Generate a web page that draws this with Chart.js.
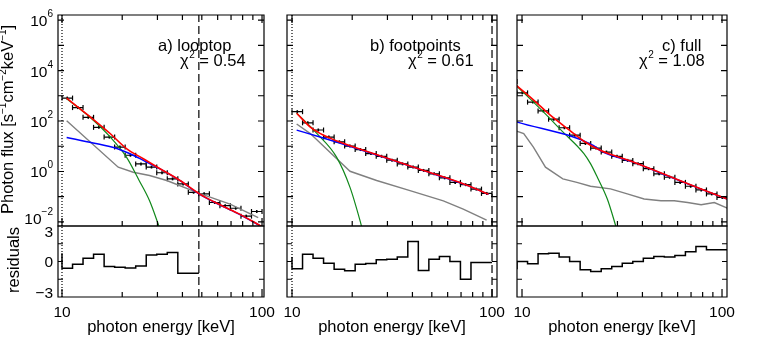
<!DOCTYPE html>
<html>
<head>
<meta charset="utf-8">
<script src="https://cdn.jsdelivr.net/npm/chart.js@4.4.1/dist/chart.umd.min.js"></script>
<style>
  body { margin: 0; background: #fff; }
  #wrap { position: relative; width: 764px; height: 339px; overflow: hidden; background: #fff; }
  #wrap canvas { position: absolute; left: 0; top: 0; }
</style>
</head>
<body>
<div id="wrap"></div>
<script>
// energy bin edges [keV] of the looptop and footpoint spectra
const binEdges = [10.00, 11.29, 12.74, 14.38, 16.24, 18.33, 20.69, 23.36, 26.37, 29.76,
                  33.60, 37.93, 42.81, 48.33, 54.56, 61.58, 69.52, 78.48, 88.59, 100.0];
// the full-flare spectrum is binned a bit lower (first bin is cut by the axis)
const binEdgesFull = [8.36, 9.44, 10.66, 12.03, 13.58, 15.33, 17.30, 19.53, 22.05, 24.89, 28.09,
                      31.71, 35.80, 40.41, 45.61, 51.49, 58.12, 65.61, 74.06, 83.60, 94.37, 106.5];

// observed photon flux per bin
const loopFlux = [810, 340, 140, 56, 23, 9.3, 4.4, 2.0, 1.5, 0.89, 0.51, 0.32, 0.15, 0.13,
                  0.059, 0.044, 0.035, 0.017, 0.026];
const footFlux = [234, 85, 44, 23, 15, 10.2, 7.4, 5.1, 4.0, 2.8, 2.0, 1.5, 1.10, 0.81,
                  0.56, 0.37, 0.30, 0.20, 0.135];
const fullFlux = [3700, 1300, 560, 250, 118, 54, 27.5, 12.9, 8.5, 5.9, 4.0, 2.75, 2.04, 1.29,
                  0.81, 0.59, 0.37, 0.26, 0.186, 0.129, 0.093];

// normalised residuals (fitted bins only)
const loopResid = [0.70, -0.56, -0.23, 0.28, 0.62, -0.42, -0.48, -0.54, -0.37, 0.54, 0.62, 0.76, -1.0];
const footResid = [0.37, -0.62, 0.62, 0.28, -0.14, -0.65, -0.79, -0.23, -0.17, 0.14, 0.20, 0.37,
                   1.69, -0.76, 0.20, 0.42, 0.0, -1.49, -0.08];
const fullResid = [-0.65, 0.0, -0.2, 0.65, 0.70, 0.37, 0.0, -0.70, -0.85, -0.62, -0.42, -0.14,
                   0.0, 0.28, 0.42, 0.37, 0.50, 0.82, 1.27, 0.99];

// model curves [keV, flux]
const loopTotal = [[10.55, 813], [12, 355], [13.8, 148], [17.4, 32], [21, 8.1], [25.5, 3.2],
                   [30.9, 1.29], [38.9, 0.44], [48.6, 0.13], [61.6, 0.048], [77.6, 0.020],
                   [94.2, 0.0085], [100, 0.0065]];
const loopThermal = [[10.55, 760], [13.8, 141], [17.4, 23.4], [21, 3.7], [24.3, 0.44],
                     [27.4, 0.069], [30.1, 0.0093], [31.5, 0.0032]];
const loopNonthermal = [[10.55, 22.4], [14.3, 13.5], [18.8, 8.1], [22.7, 4.4], [25.5, 2.75],
                        [30.9, 1.26], [38.9, 0.43], [48.6, 0.126], [61.6, 0.047], [77.6, 0.0195],
                        [94.2, 0.0083], [100, 0.0063]];
const loopBackground = [[10.55, 102], [19.1, 1.48], [22.7, 0.93], [27.4, 0.69], [33.4, 0.44],
                        [48.6, 0.135], [69.2, 0.051], [95.7, 0.0148]];

const footTotal = [[10.55, 204], [12.3, 59], [13.8, 32.4], [15.5, 21], [17.3, 14.8], [28, 4.0],
                   [45.5, 1.10], [73.8, 0.30], [96, 0.126]];
const footThermal = [[10.55, 204], [13.3, 32.4], [16.7, 3.7], [19.5, 0.234], [21.9, 0.011],
                     [22.8, 0.0032]];
const footNonthermal = [[10.55, 43.6], [13.8, 23.4], [17.3, 13.5], [28, 3.9], [45.5, 1.08],
                        [73.8, 0.295], [96, 0.124]];
const footBackground = [[10.55, 76], [12.3, 32.4], [19.5, 1.02], [26.5, 0.44], [38.9, 0.174],
                        [57.1, 0.069], [71.8, 0.032], [94, 0.0117]];

const fullTotal = [[9.4, 2512], [11.4, 692], [13.8, 174], [16.8, 51], [20.4, 15.8], [24.6, 6.9],
                   [36.2, 2.34], [53.3, 0.69], [78.6, 0.204], [106.4, 0.081]];
const fullThermal = [[9.4, 2450], [12.5, 275], [16.0, 37], [20.4, 5.1], [22.0, 2.04], [23.8, 0.59],
                     [26.7, 0.081], [29.1, 0.0093], [30.5, 0.0025]];
const fullNonthermal = [[9.4, 93], [22.7, 10.9], [24.6, 6.8], [36.2, 2.3], [53.3, 0.68],
                        [78.6, 0.2], [106.4, 0.08]];
const fullBackground = [[9.4, 40], [10.2, 32], [11.4, 9.3], [13.1, 1.48], [16.0, 0.51], [18.8, 0.37],
                        [22.0, 0.26], [27.7, 0.204], [33.6, 0.129], [40.8, 0.081], [49.5, 0.069],
                        [57.7, 0.069], [67.3, 0.059], [78.6, 0.048], [91.5, 0.059], [106.4, 0.035]];

// fit range markers (dotted low, dashed high)
const fitLow = [10, 10, null];
const fitHigh = [48.33, 100, null];

const panelNames = ['a) looptop', 'b) footpoints', 'c) full'];
const chiValues = ['0.54', '0.61', '1.08'];

// axis ticks
const xTickValues = [10, 20, 30, 40, 50, 60, 70, 80, 90, 100];
const xMajorTicks = [10, 100];
const xTickLabels = [10, 100];
const specTickValues = [1e-2, 1e-1, 1, 1e1, 1e2, 1e3, 1e4, 1e5, 1e6];
const specLabelExps = [-2, 0, 2, 4, 6];
const residTickValues = [-1.5, 0, 1.5];
const residLabels = [3, 0, -3];

// ---------------------------------------------------------------
const W = 764, H = 339;
const FONT = '"Liberation Sans", Arial, Helvetica, sans-serif';
const TOP = 15, MID = 226, BOT = 297;
const SPEC_MIN = Math.pow(10, -2.16), SPEC_MAX = Math.pow(10, 6.2);

const boxes = [
  {left: 58, right: 264, xmin: 9.55, xmax: 102.3, nameAt: [158, 51], chiAt: [180, 65.5]},
  {left: 287, right: 497, xmin: 9.44, xmax: 105.9, nameAt: [370, 51], chiAt: [408, 65.5]},
  {left: 517, right: 727, xmin: 9.44, xmax: 105.9, nameAt: [662, 51], chiAt: [639, 65.5]}
];

const panels = [
  {flux: loopFlux, edges: binEdges, resid: loopResid, residEdges: binEdges.slice(0, 14),
   curves: [loopTotal, loopNonthermal, loopThermal, loopBackground]},
  {flux: footFlux, edges: binEdges, resid: footResid, residEdges: binEdges,
   curves: [footTotal, footNonthermal, footThermal, footBackground]},
  {flux: fullFlux, edges: binEdgesFull, resid: fullResid, residEdges: binEdgesFull.slice(1),
   curves: [fullTotal, fullNonthermal, fullThermal, fullBackground]}
];

const curveStyle = [
  {color: '#ff0000', width: 1.6, smooth: true},
  {color: '#0000ff', width: 1.5, smooth: true},
  {color: '#10881a', width: 1.2, smooth: true},
  {color: '#808080', width: 1.4, smooth: false}
];

function newCanvas() {
  const c = document.createElement('canvas');
  c.width = W; c.height = H;
  document.getElementById('wrap').appendChild(c);
  return c;
}

function vline(x, ymin, ymax, dash) {
  return {data: [{x: x, y: ymin}, {x: x, y: ymax}], borderColor: '#000', borderWidth: 1.2,
          borderDash: dash, pointRadius: 0, fill: false};
}

function errorBars(edges, flux) {
  const pts = [];
  flux.forEach((v, i) => {
    pts.push({x: edges[i], y: v}, {x: edges[i + 1], y: v}, {x: edges[i + 1], y: null});
  });
  return pts;
}

function frame(ticksTop, yTicks, yLen) {
  return {
    id: 'frame',
    afterDatasetsDraw(chart) {
      const {ctx, chartArea: a, scales: {x, y}} = chart;
      ctx.save();
      ctx.strokeStyle = '#000';
      ctx.lineWidth = 1.2;
      ctx.beginPath();
      ctx.rect(a.left, a.top, a.right - a.left, a.bottom - a.top);
      for (const v of xTickValues) {
        const px = x.getPixelForValue(v);
        const len = xMajorTicks.includes(v) ? 8 : 5;
        if (ticksTop) { ctx.moveTo(px, a.top); ctx.lineTo(px, a.top + len); }
        ctx.moveTo(px, a.bottom); ctx.lineTo(px, a.bottom - len);
      }
      for (const v of yTicks) {
        const py = y.getPixelForValue(v);
        ctx.moveTo(a.left, py); ctx.lineTo(a.left + yLen, py);
        ctx.moveTo(a.right, py); ctx.lineTo(a.right - yLen, py);
      }
      ctx.stroke();
      ctx.restore();
    }
  };
}

function annotate(i) {
  const b = boxes[i];
  return {
    id: 'annotate',
    afterDraw(chart) {
      const ctx = chart.ctx;
      ctx.save();
      ctx.fillStyle = '#000';
      ctx.textBaseline = 'alphabetic';
      ctx.textAlign = 'left';
      ctx.font = '16.5px ' + FONT;
      ctx.fillText(panelNames[i], b.nameAt[0], b.nameAt[1]);
      let x = b.chiAt[0];
      ctx.fillText('χ', x, b.chiAt[1]);
      x += ctx.measureText('χ').width + 0.5;
      ctx.font = '10px ' + FONT;
      ctx.fillText('2', x, b.chiAt[1] - 8);
      x += ctx.measureText('2').width;
      ctx.font = '16.5px ' + FONT;
      ctx.fillText(' = ' + chiValues[i], x, b.chiAt[1]);
      ctx.restore();
    }
  };
}

// rich text: parts of [text, isSuperscript]
function richWidth(ctx, parts, big, small) {
  let w = 0;
  for (const [t, sup] of parts) { ctx.font = (sup ? small : big) + 'px ' + FONT; w += ctx.measureText(t).width; }
  return w;
}
function drawRich(ctx, parts, x, y, big, small, raise) {
  for (const [t, sup] of parts) {
    ctx.font = (sup ? small : big) + 'px ' + FONT;
    ctx.fillText(t, x, sup ? y - raise : y);
    x += ctx.measureText(t).width;
  }
}

const specLabels = {
  id: 'specLabels',
  afterDraw(chart) {
    const {ctx, scales: {y}} = chart;
    ctx.save();
    ctx.fillStyle = '#000';
    ctx.textBaseline = 'alphabetic';
    ctx.textAlign = 'left';
    for (const e of specLabelExps) {
      const py = y.getPixelForValue(Math.pow(10, e)) + (e === -2 ? -4 : 0);
      const parts = [['10', false], [e < 0 ? '−' + (-e) : String(e), true]];
      const w = richWidth(ctx, parts, 15.5, 10);
      drawRich(ctx, parts, 53 - w, py + 6, 15.5, 10, 9);
    }
    // y title, rotated
    ctx.translate(13, 214);
    ctx.rotate(-Math.PI / 2);
    drawRich(ctx, [['Photon flux [s', false], ['−1', true], ['cm', false], ['−2', true],
                   ['keV', false], ['−1', true], [']', false]], 0, 0, 16.5, 10, 7);
    ctx.restore();
  }
};

const residLabelsPlugin = {
  id: 'residLabels',
  afterDraw(chart) {
    const {ctx, scales: {y}} = chart;
    ctx.save();
    ctx.fillStyle = '#000';
    ctx.font = '15.5px ' + FONT;
    ctx.textAlign = 'right';
    ctx.textBaseline = 'alphabetic';
    for (const v of residLabels) {
      const py = y.getPixelForValue(v) + (v > 0 ? 5 : v < 0 ? -5 : 0);
      ctx.fillText(v < 0 ? '−' + (-v) : String(v), 53, py + 5.5);
    }
    ctx.translate(19, 260);
    ctx.rotate(-Math.PI / 2);
    ctx.textAlign = 'center';
    ctx.font = '16.5px ' + FONT;
    ctx.fillText('residuals', 0, 0);
    ctx.restore();
  }
};

panels.forEach((p, i) => {
  const b = boxes[i];

  // ---- spectrum ----
  const specSets = p.curves.map((c, k) => ({
    data: c.map(([e, f]) => ({x: e, y: f})),
    borderColor: curveStyle[k].color,
    borderWidth: curveStyle[k].width,
    pointRadius: 0,
    fill: false,
    tension: 0,
    cubicInterpolationMode: curveStyle[k].smooth ? 'monotone' : 'default'
  }));
  specSets.push({
    data: errorBars(p.edges, p.flux),
    borderColor: '#000', borderWidth: 1.2, fill: false, spanGaps: false,
    pointStyle: 'line', rotation: 90, pointRadius: 2.5, pointBorderWidth: 1.2, pointBorderColor: '#000'
  });
  specSets.push({
    data: p.flux.map((v, k) => ({x: Math.sqrt(p.edges[k] * p.edges[k + 1]), y: v})),
    showLine: false, pointStyle: 'line', rotation: 90, pointRadius: 1.5,
    pointBorderWidth: 1.6, pointBorderColor: '#000'
  });
  if (fitLow[i]) specSets.push(vline(fitLow[i], SPEC_MIN, SPEC_MAX, [1, 2]));
  if (fitHigh[i]) specSets.push(vline(fitHigh[i], SPEC_MIN, SPEC_MAX, [8, 4]));

  const specPlugins = [frame(true, specTickValues, 6), annotate(i)];
  if (i === 0) specPlugins.push(specLabels);

  new Chart(newCanvas(), {
    type: 'line',
    data: {datasets: specSets},
    options: {
      responsive: false, animation: false, devicePixelRatio: 1,
      layout: {padding: {left: b.left, right: W - b.right, top: TOP, bottom: H - MID}},
      plugins: {legend: {display: false}, tooltip: {enabled: false}},
      scales: {
        x: {type: 'logarithmic', min: b.xmin, max: b.xmax, display: false},
        y: {type: 'logarithmic', min: SPEC_MIN, max: SPEC_MAX, display: false}
      }
    },
    plugins: specPlugins
  });

  // ---- residuals ----
  const stepPts = p.resid.map((r, k) => ({x: p.residEdges[k], y: r}));
  stepPts.push({x: p.residEdges[p.resid.length], y: p.resid[p.resid.length - 1]});
  const resSets = [{
    data: stepPts, stepped: 'after', borderColor: '#000', borderWidth: 1.5, pointRadius: 0, fill: false
  }];
  if (fitLow[i]) resSets.push(vline(fitLow[i], -3, 3, [1, 2]));
  if (fitHigh[i]) resSets.push(vline(fitHigh[i], -3, 3, [8, 4]));

  const resPlugins = [frame(false, residTickValues, 5)];
  if (i === 0) resPlugins.push(residLabelsPlugin);

  new Chart(newCanvas(), {
    type: 'line',
    data: {datasets: resSets},
    options: {
      responsive: false, animation: false, devicePixelRatio: 1,
      layout: {padding: {left: b.left, right: W - b.right, top: MID, bottom: 0}},
      plugins: {legend: {display: false}, tooltip: {enabled: false}},
      scales: {
        x: {
          type: 'logarithmic', min: b.xmin, max: b.xmax, position: 'bottom',
          grid: {display: false, drawTicks: false}, border: {display: false},
          afterBuildTicks: (scale) => { scale.ticks = xTickLabels.map(v => ({value: v})); },
          afterFit: (scale) => { scale.height = H - BOT; },
          ticks: {autoSkip: false, maxRotation: 0, padding: 6, color: '#000',
                  font: {family: FONT, size: 15.5}, callback: (v) => String(v)},
          title: {display: true, text: 'photon energy [keV]', color: '#000',
                  font: {family: FONT, size: 16.5}, padding: {top: 0, bottom: 1.5}}
        },
        y: {type: 'linear', min: -3, max: 3, display: false}
      }
    },
    plugins: resPlugins
  });
});
</script>
</body>
</html>
